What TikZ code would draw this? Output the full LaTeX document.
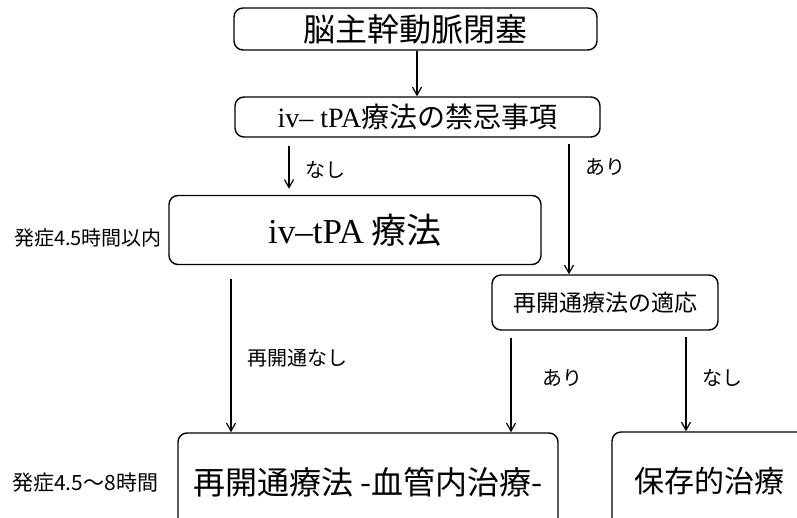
\documentclass[tikz,border=0pt]{standalone}
\usepackage{fontspec}
\setmainfont{Noto Sans CJK JP}
\newfontfamily\lser{Liberation Serif}
\usetikzlibrary{arrows.meta}
\begin{document}
\begin{tikzpicture}[x=1pt,y=-1pt,
  box/.style={draw,line width=1.4pt,rounded corners=9pt,inner sep=0pt,align=center},
  arr/.style={line width=1.2pt,-{Straight Barb[length=8pt,width=9pt,line width=1.2pt]}},
  lab/.style={inner sep=0pt,anchor=west,font=\fontsize{20}{22}\selectfont}]
\useasboundingbox (0,0) rectangle (797,517);
\begin{scope}
\clip (0,0) rectangle (797,517);
\node[box,minimum width=363pt,minimum height=42pt,font=\fontsize{32}{34}\selectfont] (top) at (415.5,29) {脳主幹動脈閉塞};
\node[box,minimum width=365pt,minimum height=40pt,font=\fontsize{28}{30}\selectfont] (kinki) at (417.5,117) {{\lser iv– tPA}療法の禁忌事項};
\node[box,minimum width=372pt,minimum height=69pt,font=\fontsize{35}{37}\selectfont] (ivtpa) at (355,230) {{\lser iv–tPA} 療法};
\node[box,minimum width=226pt,minimum height=55pt,font=\fontsize{23}{25}\selectfont] (tekio) at (605,302.5) {再開通療法の適応};
\node[box,minimum width=380pt,minimum height=98pt,font=\fontsize{32}{34}\selectfont] (saikai) at (368,482) {再開通療法 -血管内治療-};
\node[box,minimum width=194pt,minimum height=98pt,font=\fontsize{30}{32}\selectfont] (hozon) at (709,481) {保存的治療};
\end{scope}
\node[lab] (l1) at (14,238) {発症4.5時間以内};
\node[lab,font=\fontsize{21}{23}\selectfont] (l2) at (12,483) {発症4.5～8時間};
\node[lab] (n1) at (305,170) {なし};
\node[lab] (a1) at (585,167) {あり};
\node[lab] (n2) at (247,358) {再開通なし};
\node[lab] (a2) at (542,378) {あり};
\node[lab] (n3) at (702,378) {なし};
\coordinate (x0) at (417,0);
\coordinate (x1) at (289,0);
\coordinate (x2) at (569,0);
\coordinate (x3) at (231,0);
\coordinate (x4) at (511,0);
\coordinate (x5) at (686,0);
\draw[arr] (top.south -| x0) -- (kinki.north -| x0);
\draw[arr,shorten <=8pt,shorten >=6pt] (kinki.south -| x1) -- (ivtpa.north -| x1);
\draw[arr,shorten <=6pt] (kinki.south -| x2) -- (tekio.north -| x2);
\draw[arr,shorten <=14pt] (ivtpa.south -| x3) -- (saikai.north -| x3);
\draw[arr,shorten <=7pt] (tekio.south -| x4) -- (saikai.north -| x4);
\draw[arr,shorten <=6pt] (tekio.south -| x5) -- (hozon.north -| x5);
\end{tikzpicture}
\end{document}
